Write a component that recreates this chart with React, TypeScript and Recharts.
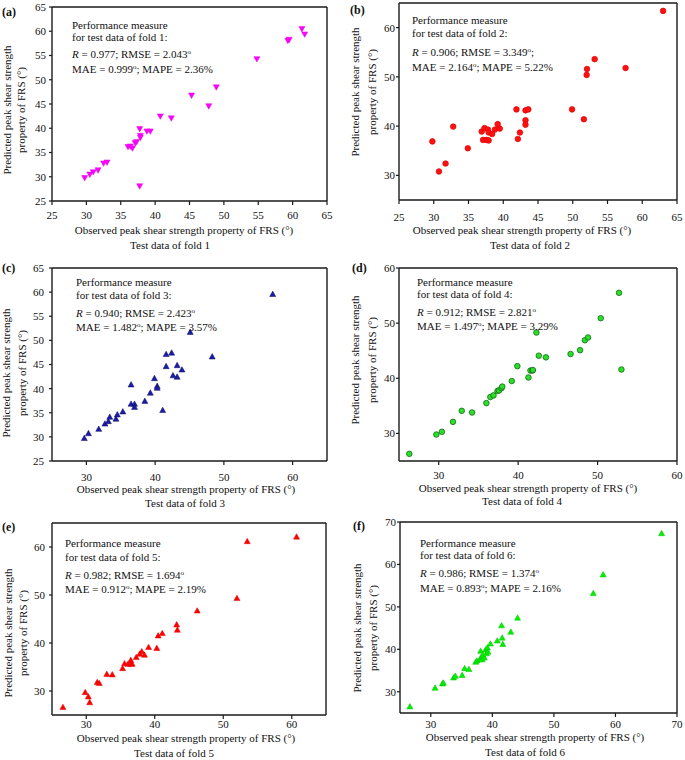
import React from "react";
import { ScatterChart, Scatter, XAxis, YAxis, ReferenceLine } from "recharts";

const FONT = '"Liberation Serif", "Times New Roman", serif';

const fold1Observed = [29.75, 30.5, 31.0, 31.7, 32.5, 33.0, 36.05, 36.4, 36.7, 37.1, 37.3, 37.75, 37.85, 37.85, 37.75, 38.8, 39.3, 40.75, 42.35, 45.3, 47.8, 48.9, 54.8, 59.3, 59.5, 61.35, 61.75];
const fold1Predicted = [29.7, 30.4, 30.9, 31.3, 32.7, 32.9, 36.1, 36.2, 35.8, 36.9, 37.1, 39.8, 38.4, 38.0, 28.0, 39.3, 39.3, 42.4, 42.0, 46.7, 44.5, 48.4, 54.2, 58.0, 58.2, 60.4, 59.3];

const fold2Observed = [29.8, 30.75, 31.7, 32.8, 34.9, 36.9, 37.1, 37.3, 37.6, 37.8, 37.9, 37.9, 38.4, 38.8, 39.2, 39.5, 41.9, 42.1, 42.4, 43.2, 43.2, 43.2, 43.6, 49.9, 51.6, 52.0, 52.05, 53.15, 57.6, 63.0];
const fold2Predicted = [36.9, 30.8, 32.4, 39.9, 35.5, 38.9, 37.2, 39.6, 37.2, 39.3, 38.7, 37.1, 38.4, 39.3, 40.4, 39.5, 43.4, 37.4, 38.7, 43.2, 41.2, 40.3, 43.4, 43.4, 41.4, 50.4, 51.6, 53.6, 51.8, 63.4];

const fold3Observed = [29.7, 30.3, 31.8, 32.7, 33.2, 33.4, 34.3, 34.5, 35.3, 36.5, 36.5, 37.0, 37.0, 38.5, 39.3, 39.9, 40.3, 40.3, 41.1, 41.6, 41.6, 42.4, 42.6, 43.2, 43.2, 43.9, 45.1, 48.3, 57.1];
const fold3Predicted = [29.8, 30.8, 31.7, 32.8, 33.3, 34.2, 33.8, 34.7, 35.3, 40.9, 36.9, 36.9, 36.25, 37.5, 39.2, 42.2, 40.6, 40.2, 35.6, 47.2, 44.7, 47.5, 42.8, 42.5, 44.9, 44.0, 51.8, 46.7, 59.65];

const fold4Observed = [26.3, 29.7, 30.4, 31.8, 32.9, 34.2, 36.0, 36.5, 36.9, 37.4, 37.6, 37.9, 38.0, 39.2, 39.9, 41.3, 41.55, 41.8, 41.85, 42.3, 42.6, 43.5, 46.6, 47.8, 48.4, 48.8, 50.4, 52.7, 53.0];
const fold4Predicted = [26.3, 29.8, 30.3, 32.1, 34.1, 33.8, 35.5, 36.6, 36.9, 37.7, 37.8, 38.2, 38.5, 39.5, 42.2, 40.15, 41.4, 41.4, 41.5, 48.3, 44.1, 43.8, 44.4, 45.1, 46.9, 47.4, 50.9, 55.5, 41.6];

const fold5Observed = [26.6, 29.85, 30.3, 30.5, 31.6, 31.9, 33.0, 33.8, 35.3, 35.6, 36.1, 36.5, 36.5, 36.7, 37.3, 37.8, 38.1, 38.5, 39.1, 40.3, 40.5, 41.1, 43.2, 43.3, 46.2, 52.0, 53.5, 60.7];
const fold5Predicted = [26.7, 29.8, 28.9, 27.7, 31.9, 31.7, 33.6, 33.5, 34.8, 35.8, 35.7, 36.5, 35.7, 35.7, 37.1, 37.8, 38.3, 37.6, 39.2, 39.0, 41.6, 42.1, 43.9, 42.8, 46.8, 49.4, 61.25, 62.2];

const fold6Observed = [26.6, 30.7, 31.9, 32.05, 33.7, 34.0, 35.1, 35.5, 36.2, 37.3, 37.5, 38.0, 38.1, 38.2, 38.35, 38.5, 38.7, 38.9, 39.05, 39.2, 39.3, 39.7, 40.8, 41.5, 41.6, 41.7, 43.0, 44.1, 56.4, 58.0, 67.5];
const fold6Predicted = [26.6, 31.0, 32.0, 32.2, 33.4, 33.8, 34.0, 35.6, 35.4, 37.1, 37.4, 37.7, 39.7, 38.3, 37.7, 38.7, 38.1, 40.0, 39.1, 40.5, 39.5, 41.4, 42.1, 45.7, 42.8, 41.3, 44.2, 47.5, 53.3, 57.7, 67.4];

const ticks5 = [25, 30, 35, 40, 45, 50, 55, 60, 65];
const ticks10to60 = [30, 40, 50, 60];
const ticks10to70 = [30, 40, 50, 60, 70];

const toRows = (xs: number[], ys: number[]) => xs.map((x, i) => ({ x, y: ys[i] }));

type ShapeKind = "down" | "up" | "circle";

const Marker = ({ cx, cy, kind, fill, stroke }: { cx: number; cy: number; kind: ShapeKind; fill: string; stroke: string }) => {
  if (kind === "circle") return <circle cx={cx} cy={cy} r={2.8} fill={fill} stroke={stroke} strokeWidth={0.7} />;
  const s = 6;
  const h = 5.4;
  const pts =
    kind === "down"
      ? `${cx - s / 2},${cy - h / 2} ${cx + s / 2},${cy - h / 2} ${cx},${cy + h / 2}`
      : `${cx - s / 2},${cy + h / 2} ${cx + s / 2},${cy + h / 2} ${cx},${cy - h / 2}`;
  return <polygon points={pts} fill={fill} stroke={stroke} strokeWidth={0.5} />;
};

const Deg = () => <sup style={{ fontSize: 7, lineHeight: 0, verticalAlign: "4px" }}>o</sup>;

interface PanelDef {
  tag: string;
  fold: number;
  col: number;
  row: number;
  h: number;
  plot: { l: number; r: number; t: number; b: number };
  xDomain: [number, number];
  yDomain: [number, number];
  xTicks: number[];
  yTicks: number[];
  xTickGap: number;
  yTickGap: number;
  data: { x: number; y: number }[];
  kind: ShapeKind;
  fill: string;
  stroke: string;
  tagPos: [number, number];
  noteLeft: number;
  noteY: number[];
  stats: [string, string, string, string, string];
  yTitleX: [number, number];
  yTitleCy: number;
  xTitle: [number, number, number, number];
}

const panels: PanelDef[] = [
  {
    tag: "(a)", fold: 1, col: 0, row: 0, h: 250,
    plot: { l: 52, r: 327, t: 7, b: 201 },
    xDomain: [25, 65], yDomain: [25, 65], xTicks: ticks5, yTicks: ticks5, xTickGap: 6, yTickGap: 3,
    data: toRows(fold1Observed, fold1Predicted), kind: "down", fill: "#ff00ff", stroke: "#e000e0",
    tagPos: [2, 12], noteLeft: 72, noteY: [25, 37, 54, 69],
    stats: ["0.977", "2.043", "", "0.999", "2.36"],
    yTitleX: [7, 21], yTitleCy: 110, xTitle: [184, 230, 170, 245],
  },
  {
    tag: "(b)", fold: 2, col: 340, row: 0, h: 250,
    plot: { l: 399, r: 677, t: 3, b: 200 },
    xDomain: [25, 65], yDomain: [25, 65], xTicks: ticks5, yTicks: ticks10to60, xTickGap: 9, yTickGap: 1,
    data: toRows(fold2Observed, fold2Predicted), kind: "circle", fill: "#ff1010", stroke: "#e00000",
    tagPos: [350, 10], noteLeft: 412, noteY: [20, 33, 52, 67],
    stats: ["0.906", "3.349", ";", "2.164", "5.22"],
    yTitleX: [355, 372], yTitleCy: 92, xTitle: [522, 230, 530, 245],
  },
  {
    tag: "(c)", fold: 3, col: 0, row: 250, h: 250,
    plot: { l: 52, r: 327, t: 268, b: 461 },
    xDomain: [25, 65], yDomain: [25, 65], xTicks: ticks10to60, yTicks: ticks5, xTickGap: 8, yTickGap: 5,
    data: toRows(fold3Observed, fold3Predicted), kind: "up", fill: "#1c1ca8", stroke: "#0a0a60",
    tagPos: [2, 268], noteLeft: 76, noteY: [282, 295, 313, 327],
    stats: ["0.940", "2.423", "", "1.482", "3.57"],
    yTitleX: [6, 22], yTitleCy: 373, xTitle: [186, 489, 185, 503],
  },
  {
    tag: "(d)", fold: 4, col: 340, row: 250, h: 250,
    plot: { l: 399, r: 677, t: 268, b: 461 },
    xDomain: [25, 60], yDomain: [25, 60], xTicks: ticks10to60, yTicks: ticks10to60, xTickGap: 6, yTickGap: 1,
    data: toRows(fold4Observed, fold4Predicted), kind: "circle", fill: "#2adf2a", stroke: "#0b5a0b",
    tagPos: [352, 268], noteLeft: 417, noteY: [282, 294, 312, 326],
    stats: ["0.912", "2.821", "", "1.497", "3.29"],
    yTitleX: [355, 372], yTitleCy: 360, xTitle: [528, 488, 522, 501],
  },
  {
    tag: "(e)", fold: 5, col: 0, row: 500, h: 260,
    plot: { l: 52, r: 326, t: 523, b: 715 },
    xDomain: [25, 65], yDomain: [25, 65], xTicks: ticks10to60, yTicks: ticks10to60, xTickGap: 1, yTickGap: 4,
    data: toRows(fold5Observed, fold5Predicted), kind: "up", fill: "#ff0000", stroke: "#e00000",
    tagPos: [2, 527], noteLeft: 65, noteY: [543, 557, 575, 589],
    stats: ["0.982", "1.694", "", "0.912", "2.19"],
    yTitleX: [8, 23], yTitleCy: 633, xTitle: [186, 738, 174, 753],
  },
  {
    tag: "(f)", fold: 6, col: 340, row: 500, h: 260,
    plot: { l: 400, r: 677, t: 522, b: 713 },
    xDomain: [25, 70], yDomain: [25, 70], xTicks: ticks10to70, yTicks: ticks10to70, xTickGap: 3, yTickGap: 1,
    data: toRows(fold6Observed, fold6Predicted), kind: "up", fill: "#00f000", stroke: "#00c000",
    tagPos: [353, 526], noteLeft: 420, noteY: [543, 555, 573, 588],
    stats: ["0.986", "1.374", "", "0.893", "2.16"],
    yTitleX: [357, 373], yTitleCy: 628, xTitle: [535, 737, 525, 752],
  },
];

const abs = (left: number, cy: number): React.CSSProperties => ({
  position: "absolute",
  left,
  top: cy - 7,
  lineHeight: "14px",
  whiteSpace: "nowrap",
  fontFamily: FONT,
  fontSize: 11,
  color: "#111",
});

const LINE = "#1a1a1a";

function Panel({ p }: { p: PanelDef }) {
  const width = p.col === 0 ? 340 : 345;
  const yAxisW = p.plot.l - p.col;
  const xAxisH = 30;
  const margin = {
    top: p.plot.t - p.row,
    right: p.col + width - p.plot.r,
    left: 0,
    bottom: p.row + p.h - p.plot.b - xAxisH,
  };
  const tickStyle = { fill: "#111", fontSize: 11, fontFamily: FONT };
  const [rVal, rmse, rmseTail, mae, mape] = p.stats;
  return (
    <>
      <div style={{ position: "absolute", left: p.col, top: p.row }}>
        <ScatterChart width={width} height={p.h} margin={margin}>
          <XAxis
            type="number"
            dataKey="x"
            domain={p.xDomain}
            ticks={p.xTicks}
            height={xAxisH}
            tick={tickStyle}
            tickSize={4}
            tickMargin={p.xTickGap}
            axisLine={{ stroke: LINE, strokeWidth: 1.4 }}
            tickLine={{ stroke: LINE, strokeWidth: 1.2 }}
            allowDataOverflow
          />
          <YAxis
            type="number"
            dataKey="y"
            domain={p.yDomain}
            ticks={p.yTicks}
            width={yAxisW}
            tick={tickStyle}
            tickSize={3}
            tickMargin={p.yTickGap}
            axisLine={{ stroke: LINE, strokeWidth: 1.4 }}
            tickLine={{ stroke: LINE, strokeWidth: 1.2 }}
            allowDataOverflow
          />
          {/* top and right edges of the plot frame */}
          <ReferenceLine y={p.yDomain[1]} stroke={LINE} strokeWidth={1.4} ifOverflow="extendDomain" />
          <ReferenceLine x={p.xDomain[1]} stroke={LINE} strokeWidth={1.4} ifOverflow="extendDomain" />
          <Scatter
            data={p.data}
            isAnimationActive={false}
            shape={(s: any) => <Marker cx={s.cx} cy={s.cy} kind={p.kind} fill={p.fill} stroke={p.stroke} />}
          />
        </ScatterChart>
      </div>
      <div style={{ ...abs(p.tagPos[0], p.tagPos[1]), fontWeight: "bold", fontSize: 12 }}>{p.tag}</div>
      <div style={abs(p.noteLeft, p.noteY[0])}>Performance measure</div>
      <div style={abs(p.noteLeft, p.noteY[1])}>for test data of fold {p.fold}:</div>
      <div style={abs(p.noteLeft, p.noteY[2])}>
        <i>R</i> = {rVal}; RMSE = {rmse}
        <Deg />
        {rmseTail}
      </div>
      <div style={abs(p.noteLeft, p.noteY[3])}>
        MAE = {mae}
        <Deg />; MAPE = {mape}%
      </div>
      {[0, 1].map((i) => (
        <div
          key={i}
          style={{
            ...abs(p.yTitleX[i], p.yTitleCy),
            top: p.yTitleCy,
            transform: "translate(-50%, -50%) rotate(-90deg)",
          }}
        >
          {i === 0 ? "Predicted peak shear strength" : "property of FRS (°)"}
        </div>
      ))}
      <div style={{ ...abs(p.xTitle[0], p.xTitle[1]), transform: "translateX(-50%)" }}>
        Observed peak shear strength property of FRS (°)
      </div>
      <div style={{ ...abs(p.xTitle[2], p.xTitle[3]), transform: "translateX(-50%)" }}>Test data of fold {p.fold}</div>
    </>
  );
}

export default function App() {
  return (
    <div style={{ position: "absolute", left: 0, top: 0, width: 685, height: 760, background: "#fff", overflow: "hidden" }}>
      {panels.map((p) => (
        <Panel key={p.tag} p={p} />
      ))}
    </div>
  );
}
